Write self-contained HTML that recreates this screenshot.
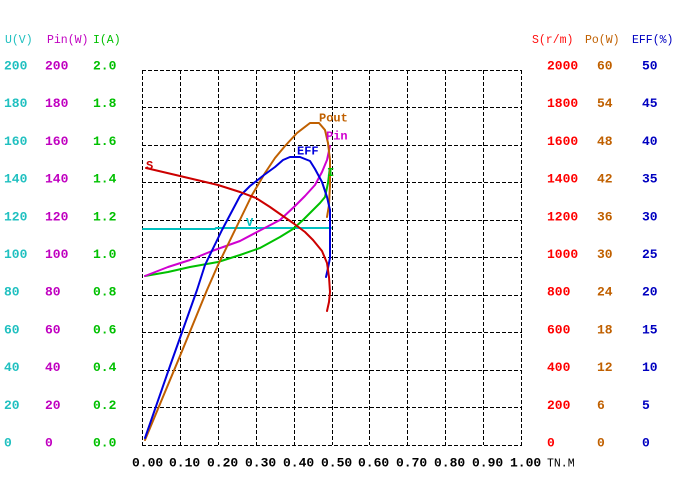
<!DOCTYPE html>
<html>
<head>
<meta charset="utf-8">
<style>
html,body{margin:0;padding:0;background:#fff;}
svg{display:block;}
text{font-family:"Liberation Mono","DejaVu Sans Mono",monospace;}
.v{font-size:13px;font-weight:bold;}
.h{font-size:11.5px;}
.c{font-size:12px;font-weight:bold;}
</style>
</head>
<body>
<svg width="680" height="489" viewBox="0 0 680 489" xmlns="http://www.w3.org/2000/svg">
<rect width="680" height="489" fill="#fff"/>
<g stroke="#000" stroke-width="1" stroke-dasharray="4,2" fill="none" shape-rendering="crispEdges">
<line x1="142.5" y1="70" x2="142.5" y2="445"/>
<line x1="180.5" y1="70" x2="180.5" y2="445"/>
<line x1="218.5" y1="70" x2="218.5" y2="445"/>
<line x1="256.5" y1="70" x2="256.5" y2="445"/>
<line x1="294.5" y1="70" x2="294.5" y2="445"/>
<line x1="332.5" y1="70" x2="332.5" y2="445"/>
<line x1="369.5" y1="70" x2="369.5" y2="445"/>
<line x1="407.5" y1="70" x2="407.5" y2="445"/>
<line x1="445.5" y1="70" x2="445.5" y2="445"/>
<line x1="483.5" y1="70" x2="483.5" y2="445"/>
<line x1="521.5" y1="70" x2="521.5" y2="445"/>
<line x1="142" y1="70.5" x2="522" y2="70.5"/>
<line x1="142" y1="107.5" x2="522" y2="107.5"/>
<line x1="142" y1="145.5" x2="522" y2="145.5"/>
<line x1="142" y1="182.5" x2="522" y2="182.5"/>
<line x1="142" y1="220.5" x2="522" y2="220.5"/>
<line x1="142" y1="257.5" x2="522" y2="257.5"/>
<line x1="142" y1="295.5" x2="522" y2="295.5"/>
<line x1="142" y1="332.5" x2="522" y2="332.5"/>
<line x1="142" y1="370.5" x2="522" y2="370.5"/>
<line x1="142" y1="407.5" x2="522" y2="407.5"/>
<line x1="142" y1="445.5" x2="522" y2="445.5"/>
</g>

<text class="h" x="5" y="43" fill="#20c0c0">U(V)</text>
<text class="h" x="47" y="43" fill="#c000c0">Pin(W)</text>
<text class="h" x="93" y="43" fill="#00c000">I(A)</text>
<text class="h" x="532" y="43" fill="#ff1010">S(r/m)</text>
<text class="h" x="585" y="43" fill="#c06000">Po(W)</text>
<text class="h" x="632" y="43" fill="#0000c0">EFF(%)</text>

<g class="v" fill="#20c0c0">
<text x="4" y="69.5">200</text><text x="4" y="107.2">180</text><text x="4" y="144.9">160</text><text x="4" y="182.6">140</text><text x="4" y="220.3">120</text><text x="4" y="258">100</text><text x="4" y="295.7">80</text><text x="4" y="333.4">60</text><text x="4" y="371.1">40</text><text x="4" y="408.8">20</text><text x="4" y="446.5">0</text>
</g>
<g class="v" fill="#c000c0">
<text x="45" y="69.5">200</text><text x="45" y="107.2">180</text><text x="45" y="144.9">160</text><text x="45" y="182.6">140</text><text x="45" y="220.3">120</text><text x="45" y="258">100</text><text x="45" y="295.7">80</text><text x="45" y="333.4">60</text><text x="45" y="371.1">40</text><text x="45" y="408.8">20</text><text x="45" y="446.5">0</text>
</g>
<g class="v" fill="#00c000">
<text x="93" y="69.5">2.0</text><text x="93" y="107.2">1.8</text><text x="93" y="144.9">1.6</text><text x="93" y="182.6">1.4</text><text x="93" y="220.3">1.2</text><text x="93" y="258">1.0</text><text x="93" y="295.7">0.8</text><text x="93" y="333.4">0.6</text><text x="93" y="371.1">0.4</text><text x="93" y="408.8">0.2</text><text x="93" y="446.5">0.0</text>
</g>
<g class="v" fill="#ff0000">
<text x="547" y="69.5">2000</text><text x="547" y="107.2">1800</text><text x="547" y="144.9">1600</text><text x="547" y="182.6">1400</text><text x="547" y="220.3">1200</text><text x="547" y="258">1000</text><text x="547" y="295.7">800</text><text x="547" y="333.4">600</text><text x="547" y="371.1">400</text><text x="547" y="408.8">200</text><text x="547" y="446.5">0</text>
</g>
<g class="v" fill="#c06000">
<text x="597" y="69.5">60</text><text x="597" y="107.2">54</text><text x="597" y="144.9">48</text><text x="597" y="182.6">42</text><text x="597" y="220.3">36</text><text x="597" y="258">30</text><text x="597" y="295.7">24</text><text x="597" y="333.4">18</text><text x="597" y="371.1">12</text><text x="597" y="408.8">6</text><text x="597" y="446.5">0</text>
</g>
<g class="v" fill="#0000c0">
<text x="642" y="69.5">50</text><text x="642" y="107.2">45</text><text x="642" y="144.9">40</text><text x="642" y="182.6">35</text><text x="642" y="220.3">30</text><text x="642" y="258">25</text><text x="642" y="295.7">20</text><text x="642" y="333.4">15</text><text x="642" y="371.1">10</text><text x="642" y="408.8">5</text><text x="642" y="446.5">0</text>
</g>

<g class="v" fill="#000">
<text x="132" y="466.5">0.00</text><text x="169" y="466.5">0.10</text><text x="207" y="466.5">0.20</text><text x="245" y="466.5">0.30</text><text x="283" y="466.5">0.40</text><text x="321" y="466.5">0.50</text><text x="358" y="466.5">0.60</text><text x="396" y="466.5">0.70</text><text x="434" y="466.5">0.80</text><text x="472" y="466.5">0.90</text><text x="510" y="466.5">1.00</text>
</g>
<text class="h" x="547" y="466.5" fill="#000">TN.M</text>

<g fill="none" stroke-width="2" stroke-linejoin="round" stroke-linecap="round">
<polyline stroke="#00c0c0" points="143,229 215,229 216,228 331,228"/>
<polyline stroke="#00c000" points="145,276 168,272 190,267 218,262 240,255 260,248 280,237 293,229 303,220 313,210 320,203 325,197 328,183 330,167"/>
<polyline stroke="#d000d0" points="145,276 168,267 190,260 212,251 240,241 257,232 280,220 295,206 305,196 315,185 322,172 327,160 330,146"/>
<polyline stroke="#c06000" points="145,440 160,404 180,356 207,290 218,265 235,230 252,195 265,173 275,158 285,146 297,133 310,123 319,123 325,130 328,143 330,160 330,185 329,205 327,217"/>
<polyline stroke="#0000dd" points="145,438 170,366 197,290 205,265 222,230 240,196 250,186 264,175 275,167 283,160 290,157 300,157 310,161 315,169 322,182 327,197 330,210 330,230 330,258 328,268 326,277"/>
<polyline stroke="#cc0000" points="146,168 180,176 218,185 240,192 256,198 270,207 280,214 293,223 305,232 313,240 322,251 327,263 329,277 330,292 329,302 327,311"/>
</g>

<text class="c" x="146" y="169" fill="#cc0000">S</text>
<text class="c" x="246" y="226" fill="#00c0c0" font-size="11">V</text>
<text class="c" x="297" y="154.5" fill="#0000dd">EFF</text>
<text class="c" x="319" y="121.5" fill="#c06000">Pout</text>
<text class="c" x="326" y="139.5" fill="#d000d0">Pin</text>
<text class="c" x="327" y="176" fill="#00c000" font-size="10">I</text>
</svg>
</body>
</html>
